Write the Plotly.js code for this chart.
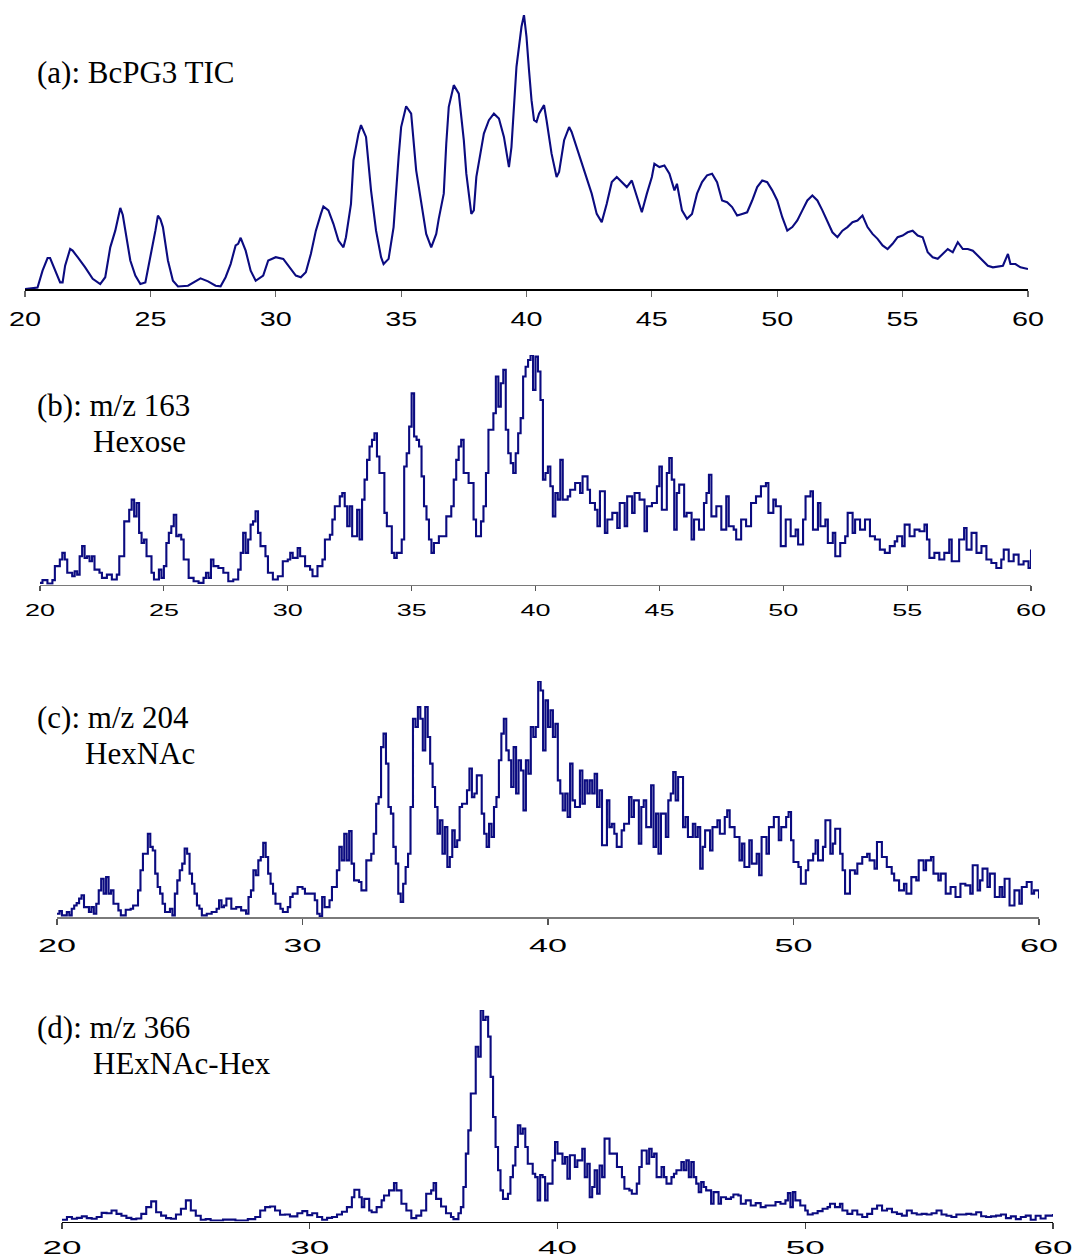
<!DOCTYPE html>
<html>
<head>
<meta charset="utf-8">
<script src="https://cdn.plot.ly/plotly-3.0.1.min.js"></script>
<style>
  html, body { margin: 0; padding: 0; background: #fff; }
  #chart { width: 1075px; height: 1258px; }
</style>
</head>
<body>
<div id="chart"></div>
<script>
// Retention time (min) and relative intensity (% of panel maximum) for each trace.
const ticBcPG3 = [
  [20.0,0],[20.5,0.5],[20.7,6.7],[20.9,11.3],[21.0,11.3],[21.2,6.7],[21.4,2.4],[21.5,2.4],[21.6,8.5],[21.8,14.6],
  [21.9,14.0],[22.1,11.6],[22.4,7.9],[22.7,3.7],[23.0,1.8],[23.2,4.3],[23.4,15.2],[23.6,21.3],[23.8,29.6],[23.9,27.0],
  [24.0,21.3],[24.2,10.4],[24.4,4.9],[24.6,1.8],[24.8,2.4],[25.0,11.6],[25.2,21.3],[25.3,26.8],[25.4,25.5],[25.5,22.6],
  [25.7,10.4],[25.9,3.0],[26.1,0.9],[26.5,1.2],[26.8,2.8],[27.0,3.9],[27.3,2.8],[27.6,1.2],[27.8,1.0],[28.0,4.3],
  [28.2,9.1],[28.4,15.9],[28.5,16.5],[28.6,18.7],[28.8,14.0],[29.0,6.7],[29.2,3.0],[29.5,4.9],[29.7,10.4],[30.0,11.6],
  [30.3,11.0],[30.5,8.5],[30.8,4.9],[31.0,4.3],[31.2,6.1],[31.4,12.8],[31.6,21.3],[31.8,27.4],[31.9,30.1],[32.1,28.7],
  [32.3,23.8],[32.5,17.7],[32.7,15.2],[32.8,18.9],[33.0,31.1],[33.1,47.0],[33.3,56.7],[33.4,59.8],[33.6,55.5],[33.8,36.0],
  [34.0,21.3],[34.2,11.6],[34.3,9.1],[34.5,11.0],[34.7,22.6],[34.9,48.2],[35.0,59.1],[35.2,66.7],[35.4,64.0],[35.6,43.3],
  [35.8,32.3],[36.0,20.1],[36.2,15.2],[36.4,20.1],[36.5,25.6],[36.7,34.8],[36.8,53.0],[36.9,66.5],[37.1,74.4],[37.3,71.3],
  [37.5,54.3],[37.6,42.1],[37.8,27.4],[37.9,28.7],[38.0,40.9],[38.2,51.8],[38.3,56.7],[38.5,61.6],[38.7,64.0],[38.9,62.2],
  [39.1,55.5],[39.3,44.5],[39.4,51.8],[39.6,81.1],[39.8,95.7],[39.9,100],[40.0,92.0],[40.1,79.9],[40.2,68.9],[40.3,61.6],
  [40.4,61.0],[40.5,64.0],[40.7,67.1],[40.8,61.6],[41.0,49.4],[41.2,40.9],[41.3,42.7],[41.5,54.3],[41.7,59.1],[41.8,57.3],
  [42.0,51.8],[42.2,45.7],[42.4,40.9],[42.6,34.8],[42.8,27.4],[43.0,24.4],[43.2,31.1],[43.4,39.0],[43.6,40.9],[43.8,39.0],
  [44.0,37.2],[44.2,39.6],[44.4,33.5],[44.6,28.0],[44.8,34.8],[45.0,40.9],[45.1,45.7],[45.3,44.5],[45.5,45.1],[45.7,42.1],
  [45.9,36.0],[46.0,38.4],[46.2,28.7],[46.4,25.6],[46.6,27.4],[46.8,34.8],[47.0,39.0],[47.2,41.5],[47.4,42.1],[47.6,39.0],
  [47.8,32.3],[48.0,31.7],[48.2,29.9],[48.4,26.8],[48.6,27.4],[48.8,28.0],[49.0,32.3],[49.2,37.2],[49.4,39.6],[49.6,39.0],
  [49.8,36.0],[50.0,32.3],[50.2,26.2],[50.4,21.3],[50.6,22.6],[50.8,25.0],[51.0,28.7],[51.2,32.3],[51.4,34.1],[51.6,32.3],
  [51.8,28.7],[52.0,24.4],[52.2,20.7],[52.4,18.9],[52.6,21.3],[52.8,22.6],[53.0,24.4],[53.2,25.0],[53.4,26.8],[53.6,22.6],
  [53.8,20.1],[54.0,18.3],[54.2,15.9],[54.4,14.6],[54.6,16.5],[54.8,18.9],[55.0,19.5],[55.2,20.7],[55.4,21.3],[55.6,19.5],
  [55.8,18.9],[56.0,13.4],[56.2,11.6],[56.4,11.0],[56.6,12.8],[56.8,14.6],[57.0,13.4],[57.2,17.1],[57.4,14.6],[57.6,14.6],
  [57.8,14.0],[58.0,12.2],[58.2,10.4],[58.4,8.5],[58.6,7.9],[58.8,8.2],[59.0,8.5],[59.2,12.8],[59.3,9.1],[59.5,9.1],
  [59.7,7.9],[60.0,7.3]
];

const eic163 = [
  [20.0,0.7],[20.1,1.9],[20.3,0.4],[20.5,1.9],[20.6,8.0],[20.8,10.9],[20.9,13.8],[21.0,10.9],[21.1,5.1],[21.3,3.6],
  [21.4,5.8],[21.5,4.3],[21.6,12.3],[21.7,16.7],[21.8,11.6],[21.9,12.3],[22.0,10.1],[22.1,12.3],[22.2,6.5],[22.4,5.1],
  [22.5,2.9],[22.7,4.3],[22.9,2.2],[23.1,4.3],[23.2,12.3],[23.4,27.5],[23.5,27.5],[23.6,32.6],[23.7,37.0],[23.8,29.7],
  [23.9,35.5],[24.0,22.5],[24.1,18.1],[24.2,19.6],[24.3,12.3],[24.5,5.1],[24.6,2.2],[24.8,6.5],[24.9,2.9],[25.0,8.0],
  [25.1,18.1],[25.2,22.5],[25.3,25.4],[25.4,30.4],[25.5,21.0],[25.6,21.7],[25.7,19.6],[25.8,10.9],[26.0,2.9],[26.2,1.4],
  [26.4,0.7],[26.6,2.9],[26.7,5.1],[26.8,2.9],[26.9,10.9],[27.0,8.0],[27.2,7.2],[27.4,5.1],[27.6,1.4],[27.8,2.2],
  [28.0,6.5],[28.1,13.8],[28.2,22.5],[28.3,13.8],[28.4,19.6],[28.5,26.1],[28.6,27.5],[28.7,31.9],[28.8,22.5],[28.9,16.7],
  [29.1,12.3],[29.2,5.1],[29.4,2.2],[29.6,3.6],[29.8,10.1],[30.0,10.9],[30.1,13.8],[30.2,11.6],[30.4,15.9],[30.5,12.3],
  [30.7,8.0],[30.9,6.5],[31.0,3.6],[31.2,8.0],[31.4,10.9],[31.5,19.6],[31.7,21.7],[31.8,28.3],[31.9,34.1],[32.1,38.4],
  [32.2,39.9],[32.3,34.1],[32.4,25.4],[32.5,34.1],[32.6,21.0],[32.8,32.6],[32.9,19.6],[33.0,37.0],[33.1,45.7],[33.2,54.3],
  [33.3,60.1],[33.4,63.0],[33.5,65.9],[33.6,55.8],[33.7,48.6],[33.9,31.2],[34.0,25.4],[34.2,13.8],[34.3,11.6],[34.4,13.8],
  [34.6,19.6],[34.7,51.4],[34.8,57.2],[34.9,68.8],[35.0,83.3],[35.1,64.5],[35.2,63.0],[35.3,60.1],[35.4,47.1],[35.5,34.1],
  [35.6,28.3],[35.7,19.6],[35.8,13.8],[35.9,18.1],[36.1,21.0],[36.3,21.0],[36.4,29.7],[36.6,34.1],[36.7,45.7],[36.8,54.3],
  [36.9,60.1],[37.0,63.0],[37.1,48.6],[37.3,44.2],[37.5,28.3],[37.6,21.0],[37.8,27.5],[37.9,34.1],[38.0,48.6],[38.1,67.4],
  [38.3,74.6],[38.4,90.6],[38.5,77.5],[38.6,87.7],[38.7,93.5],[38.8,67.4],[38.9,57.2],[39.0,52.9],[39.1,48.6],[39.2,57.2],
  [39.3,65.9],[39.4,72.5],[39.5,90.6],[39.6,94.9],[39.7,97.8],[39.8,100],[39.9,84.8],[40.0,99.3],[40.1,92.8],[40.2,80.4],
  [40.3,45.7],[40.4,48.6],[40.5,51.4],[40.6,42.8],[40.7,29.7],[40.8,39.9],[40.9,37.0],[41.0,54.3],[41.1,37.0],[41.3,38.4],
  [41.4,41.3],[41.6,44.2],[41.8,39.9],[41.9,47.1],[42.1,41.3],[42.2,35.5],[42.4,32.6],[42.5,25.4],[42.6,40.6],[42.8,22.5],
  [42.9,28.3],[43.1,31.2],[43.3,24.6],[43.4,35.5],[43.6,25.4],[43.7,38.4],[43.9,31.2],[44.0,39.9],[44.2,37.0],[44.4,23.2],
  [44.5,34.1],[44.7,35.5],[44.9,42.8],[45.0,51.4],[45.1,32.6],[45.3,48.6],[45.4,55.1],[45.5,45.7],[45.6,23.9],[45.7,39.9],
  [45.8,43.5],[46.0,29.7],[46.1,31.2],[46.3,19.6],[46.4,28.3],[46.6,23.9],[46.8,35.5],[46.9,39.9],[47.0,47.8],[47.1,29.7],
  [47.3,34.1],[47.5,23.9],[47.7,38.4],[47.8,25.4],[48.0,23.9],[48.1,19.6],[48.3,28.3],[48.5,25.4],[48.7,35.5],[48.9,38.4],
  [49.1,42.8],[49.3,44.2],[49.4,31.2],[49.6,37.0],[49.7,34.1],[49.9,16.7],[50.1,28.3],[50.3,21.0],[50.5,23.9],[50.6,17.4],
  [50.8,28.3],[50.9,38.4],[51.1,40.6],[51.2,23.9],[51.4,35.5],[51.5,25.4],[51.7,28.3],[51.8,18.1],[52.0,22.5],[52.1,12.3],
  [52.3,18.1],[52.5,21.0],[52.6,31.2],[52.8,22.5],[52.9,28.3],[53.1,23.9],[53.3,28.3],[53.5,21.0],[53.7,19.6],[53.9,15.2],
  [54.1,13.8],[54.3,16.7],[54.5,18.8],[54.6,21.0],[54.8,16.7],[54.9,26.1],[55.1,21.0],[55.3,23.9],[55.5,23.2],[55.7,26.1],
  [55.8,19.6],[55.9,11.6],[56.1,13.8],[56.3,10.9],[56.5,13.8],[56.7,19.6],[56.8,10.1],[57.0,10.1],[57.1,19.6],[57.3,24.6],
  [57.4,15.2],[57.6,22.5],[57.8,13.8],[58.0,16.7],[58.2,10.9],[58.4,9.4],[58.6,7.2],[58.8,10.9],[58.9,15.2],[59.1,10.1],
  [59.3,13.0],[59.5,8.7],[59.7,10.1],[59.9,7.2],[60.0,15.2]
];

const eic204 = [
  [20.0,1.4],[20.1,2.5],[20.2,0.7],[20.4,2.1],[20.5,0.7],[20.6,3.5],[20.7,4.9],[20.8,5.9],[20.9,7.8],[21.0,9.2],
  [21.1,4.2],[21.3,2.1],[21.4,4.2],[21.5,1.4],[21.6,5.6],[21.7,11.3],[21.8,16.2],[21.9,9.9],[22.0,16.9],[22.1,9.9],
  [22.2,11.3],[22.3,5.6],[22.5,2.8],[22.6,0.7],[22.8,3.1],[23.0,3.5],[23.1,4.9],[23.3,11.3],[23.4,19.8],[23.5,26.8],
  [23.7,35.3],[23.8,29.7],[23.9,28.2],[24.0,18.4],[24.1,12.7],[24.2,9.9],[24.3,5.6],[24.4,2.1],[24.6,3.5],[24.7,0.7],
  [24.8,9.9],[24.9,15.5],[25.0,19.8],[25.1,22.6],[25.2,29.0],[25.3,26.8],[25.4,18.4],[25.5,14.1],[25.6,9.9],[25.7,4.9],
  [25.8,3.5],[25.9,0.7],[26.1,1.4],[26.3,2.1],[26.5,3.5],[26.6,7.1],[26.7,4.2],[26.8,4.9],[26.9,7.8],[27.1,3.5],
  [27.3,4.2],[27.5,2.8],[27.7,1.4],[27.8,8.5],[27.9,11.3],[28.0,19.8],[28.1,17.7],[28.2,24.0],[28.3,25.4],[28.4,31.4],
  [28.5,25.4],[28.6,18.4],[28.7,14.1],[28.8,9.9],[28.9,5.6],[29.1,3.5],[29.2,2.1],[29.4,4.2],[29.5,8.5],[29.6,9.9],
  [29.8,12.7],[30.0,12.0],[30.1,9.9],[30.3,9.9],[30.5,7.1],[30.6,1.4],[30.7,0.3],[30.8,8.5],[30.9,4.2],[31.1,7.1],
  [31.2,12.7],[31.4,19.8],[31.5,29.7],[31.6,24.0],[31.7,35.3],[31.8,24.0],[31.9,36.4],[32.0,22.6],[32.1,15.5],[32.3,14.8],
  [32.4,11.3],[32.5,11.3],[32.6,24.0],[32.8,26.8],[32.9,35.3],[33.0,48.0],[33.1,50.8],[33.2,72.0],[33.3,77.7],[33.4,65.0],
  [33.5,46.6],[33.6,43.8],[33.7,29.7],[33.8,22.6],[33.9,9.9],[34.0,6.4],[34.1,14.1],[34.2,21.2],[34.3,26.8],[34.4,46.6],
  [34.5,84.0],[34.6,80.5],[34.7,89.0],[34.8,84.0],[34.9,70.6],[35.0,89.0],[35.1,76.3],[35.2,65.0],[35.3,55.1],[35.4,46.6],
  [35.5,35.3],[35.6,41.0],[35.7,26.8],[35.8,38.1],[35.9,21.2],[36.0,25.4],[36.1,36.7],[36.2,29.7],[36.3,32.5],[36.4,46.6],
  [36.5,48.0],[36.7,53.7],[36.8,62.9],[36.9,50.8],[37.0,52.3],[37.1,60.0],[37.3,43.8],[37.4,35.3],[37.5,29.7],[37.6,39.5],
  [37.7,33.9],[37.8,46.6],[37.9,50.8],[38.0,66.4],[38.1,77.7],[38.2,84.0],[38.3,70.6],[38.4,66.4],[38.5,55.1],[38.6,72.0],
  [38.7,52.3],[38.8,66.4],[38.9,62.1],[39.0,45.2],[39.1,66.4],[39.2,60.7],[39.3,80.5],[39.4,76.3],[39.5,80.5],[39.6,100],
  [39.7,96.0],[39.8,70.6],[39.9,91.8],[40.0,80.5],[40.1,87.6],[40.2,76.3],[40.3,81.9],[40.4,57.9],[40.5,52.3],[40.6,45.2],
  [40.7,52.3],[40.8,42.4],[40.9,65.0],[41.0,49.4],[41.1,46.6],[41.3,62.1],[41.4,48.0],[41.5,57.9],[41.6,52.3],[41.7,57.9],
  [41.8,52.3],[41.9,60.7],[42.0,46.6],[42.1,53.7],[42.2,30.4],[42.4,49.4],[42.5,38.1],[42.6,39.5],[42.7,35.3],[42.8,29.7],
  [43.0,36.7],[43.1,39.5],[43.3,50.8],[43.4,42.4],[43.5,49.4],[43.7,31.1],[43.8,46.6],[43.9,49.4],[44.0,38.1],[44.2,55.8],
  [44.3,29.7],[44.4,43.8],[44.5,26.8],[44.6,43.8],[44.8,33.9],[44.9,49.4],[45.0,52.3],[45.1,61.4],[45.2,49.4],[45.3,59.3],
  [45.5,38.1],[45.6,42.4],[45.7,33.9],[45.9,39.5],[46.0,33.9],[46.1,38.1],[46.2,20.5],[46.3,29.7],[46.4,36.7],[46.6,28.2],
  [46.7,38.1],[46.9,41.0],[47.0,35.3],[47.2,42.4],[47.3,45.2],[47.4,38.1],[47.6,33.9],[47.8,24.0],[47.9,31.1],[48.0,21.2],
  [48.2,32.5],[48.3,22.6],[48.5,26.8],[48.6,17.7],[48.7,33.9],[48.9,26.8],[49.0,38.1],[49.2,42.4],[49.4,32.5],[49.5,38.1],
  [49.7,42.4],[49.8,44.5],[49.9,32.5],[50.0,23.3],[50.2,21.2],[50.3,14.1],[50.5,19.8],[50.6,24.0],[50.8,26.8],[50.9,32.5],
  [51.0,24.0],[51.2,29.7],[51.3,41.0],[51.5,26.8],[51.6,31.1],[51.7,37.4],[51.9,26.8],[52.0,19.8],[52.1,9.9],[52.3,19.8],
  [52.5,18.4],[52.6,22.6],[52.8,25.4],[53.0,26.8],[53.1,24.0],[53.3,20.5],[53.4,31.8],[53.6,25.4],[53.8,21.2],[54.0,18.4],
  [54.1,15.5],[54.3,11.3],[54.5,14.1],[54.6,9.9],[54.8,16.9],[55.0,15.5],[55.1,24.0],[55.3,19.8],[55.4,24.0],[55.6,25.4],
  [55.7,18.4],[55.9,15.5],[56.0,18.4],[56.2,9.9],[56.4,12.7],[56.6,8.5],[56.8,14.1],[57.0,13.4],[57.2,9.9],[57.3,21.9],
  [57.5,11.3],[57.6,15.5],[57.7,20.5],[57.9,12.7],[58.0,18.4],[58.2,8.5],[58.4,12.7],[58.5,8.5],[58.6,16.2],[58.8,4.9],
  [59.0,11.3],[59.2,5.6],[59.3,12.7],[59.5,14.8],[59.7,9.9],[59.8,11.3],[60.0,7.8]
];

const eic366 = [
  [20.0,0.8],[20.2,2.1],[20.4,1.3],[20.6,1.7],[20.8,2.4],[21.0,1.6],[21.2,1.3],[21.4,2.1],[21.6,4.1],[21.8,3.9],
  [22.0,5.2],[22.2,3.6],[22.4,2.7],[22.6,1.7],[22.8,1.1],[23.0,1.4],[23.2,3.6],[23.4,6.8],[23.6,9.5],[23.8,4.4],
  [24.0,2.8],[24.2,1.6],[24.4,1.3],[24.6,3.3],[24.8,6.0],[25.0,10.0],[25.2,5.2],[25.4,2.7],[25.6,0.8],[25.8,1.1],
  [26.0,0.5],[26.5,0.9],[27.0,0.5],[27.5,1.1],[27.8,2.1],[28.0,5.2],[28.2,6.8],[28.4,7.1],[28.6,5.2],[28.8,3.2],
  [29.0,3.3],[29.2,2.4],[29.5,3.9],[29.7,4.9],[29.9,3.0],[30.1,3.9],[30.3,2.1],[30.5,0.8],[30.7,1.7],[30.9,2.1],
  [31.1,3.3],[31.3,4.6],[31.5,6.8],[31.7,11.5],[31.8,15.0],[32.0,11.5],[32.1,6.8],[32.2,10.7],[32.4,5.2],[32.5,4.4],
  [32.7,6.8],[32.9,10.0],[33.0,12.3],[33.2,14.7],[33.4,18.2],[33.5,14.7],[33.7,8.4],[33.9,5.2],[34.1,1.6],[34.3,2.8],
  [34.5,5.2],[34.7,13.1],[34.9,14.7],[35.0,18.2],[35.1,10.7],[35.3,7.1],[35.5,3.9],[35.7,2.1],[35.8,1.1],[36.0,3.9],
  [36.1,6.8],[36.2,16.3],[36.3,32.1],[36.4,43.1],[36.5,60.5],[36.7,82.6],[36.8,77.9],[36.9,100],[37.0,95.3],[37.1,96.8],
  [37.2,87.4],[37.3,68.4],[37.4,49.4],[37.5,35.2],[37.6,24.2],[37.7,14.7],[37.8,10.7],[38.0,13.1],[38.1,21.0],[38.2,26.5],
  [38.3,35.2],[38.4,45.5],[38.5,41.5],[38.6,43.9],[38.7,35.2],[38.8,27.3],[38.9,27.3],[39.0,22.6],[39.1,21.0],[39.2,10.0],
  [39.3,22.0],[39.4,21.0],[39.5,10.0],[39.6,17.9],[39.8,28.9],[39.9,37.6],[40.0,32.1],[40.2,27.3],[40.3,30.5],[40.4,20.2],
  [40.5,31.3],[40.7,25.8],[40.8,28.9],[41.0,34.4],[41.1,21.0],[41.2,27.3],[41.3,11.5],[41.4,16.3],[41.5,24.2],[41.6,13.1],
  [41.7,26.5],[41.8,21.0],[41.9,39.2],[42.1,32.1],[42.3,32.1],[42.4,25.8],[42.6,21.0],[42.7,15.5],[42.9,14.7],[43.0,13.1],
  [43.2,17.9],[43.3,25.8],[43.4,33.6],[43.6,27.3],[43.7,34.4],[43.8,30.5],[43.9,32.1],[44.0,21.0],[44.2,25.8],[44.3,21.0],
  [44.4,17.9],[44.6,21.0],[44.7,22.6],[44.8,24.2],[45.0,28.1],[45.1,24.2],[45.2,28.9],[45.3,21.0],[45.4,28.1],[45.5,21.0],
  [45.6,17.9],[45.7,13.9],[45.8,18.6],[45.9,16.3],[46.0,14.7],[46.2,8.4],[46.3,13.9],[46.5,8.4],[46.6,11.5],[46.8,10.7],
  [47.0,11.5],[47.1,12.8],[47.3,12.3],[47.4,8.4],[47.6,10.0],[47.8,7.6],[48.0,8.7],[48.2,6.8],[48.4,7.6],[48.6,7.6],
  [48.8,9.2],[49.0,8.4],[49.2,10.0],[49.3,13.4],[49.4,6.8],[49.5,13.9],[49.6,10.0],[49.8,7.6],[50.0,5.2],[50.1,3.3],
  [50.3,3.9],[50.5,4.9],[50.7,6.0],[50.9,6.8],[51.0,8.4],[51.2,6.8],[51.4,8.4],[51.5,5.2],[51.7,3.6],[51.9,5.2],
  [52.1,3.3],[52.3,2.1],[52.5,3.6],[52.7,6.0],[52.9,7.6],[53.1,5.2],[53.3,6.0],[53.5,4.4],[53.7,3.6],[53.9,2.8],
  [54.1,5.2],[54.3,3.9],[54.5,3.3],[54.7,3.6],[54.9,3.3],[55.1,3.9],[55.3,5.2],[55.5,3.3],[55.7,2.7],[55.9,2.1],
  [56.1,3.3],[56.3,3.3],[56.5,3.6],[56.7,3.3],[56.9,4.4],[57.1,2.5],[57.3,2.1],[57.5,2.4],[57.7,2.8],[57.9,3.3],
  [58.1,1.6],[58.3,2.4],[58.5,1.1],[58.7,2.1],[58.9,2.8],[59.1,0.8],[59.3,2.7],[59.5,1.4],[59.7,2.8],[60.0,3.6]
];

const tickValsA = [20, 25, 30, 35, 40, 45, 50, 55, 60];
const tickValsB = [20, 25, 30, 35, 40, 45, 50, 55, 60];
const tickValsC = [20, 30, 40, 50, 60];
const tickValsD = [20, 30, 40, 50, 60];

const panelLabels = [
  { lines: ['(a): BcPG3 TIC'], indent: [35], top: [72] },
  { lines: ['(b): m/z 163', 'Hexose'], indent: [35, 91], top: [405, 441] },
  { lines: ['(c): m/z 204', 'HexNAc'], indent: [35, 83], top: [717, 753] },
  { lines: ['(d): m/z 366', 'HExNAc-Hex'], indent: [35, 91], top: [1027, 1063] }
];

// Page geometry (pixels) for the four stacked panels; tick labels are drawn
// in a horizontally widened sans face (labelWidth = width of a two-digit label).
// The TIC is drawn as a smooth trace, the extracted-ion traces as stepped scans.
const W = 1075, H = 1258;
const panels = [
  { data: ticBcPG3, ticks: tickValsA, x0: 25, x1: 1028, yAxis: 289, yTop: 15, shape: 'linear',
    axisColor: '#000000', tickColor: '#666666', ticklen: 6, standoff: 4, fontSize: 21, labelWidth: 32 },
  { data: eic163, ticks: tickValsB, x0: 40, x1: 1031, yAxis: 584.5, yTop: 355, shape: 'hv',
    axisColor: '#7a7a7a', tickColor: '#555555', ticklen: 5, standoff: 5, fontSize: 17, labelWidth: 30 },
  { data: eic204, ticks: tickValsC, x0: 57, x1: 1039, yAxis: 917, yTop: 681, shape: 'hv',
    axisColor: '#7a7a7a', tickColor: '#555555', ticklen: 6, standoff: 5, fontSize: 19, labelWidth: 38 },
  { data: eic366, ticks: tickValsD, x0: 62, x1: 1053, yAxis: 1221.5, yTop: 1010, shape: 'hv',
    axisColor: '#000000', tickColor: '#444444', ticklen: 6, standoff: 3, fontSize: 18.5, labelWidth: 39 }
];

const traces = [];
const layout = {
  width: W, height: H,
  margin: { l: 0, r: 0, t: 0, b: 0 },
  paper_bgcolor: '#ffffff', plot_bgcolor: 'rgba(0,0,0,0)',
  showlegend: false,
  annotations: []
};

panels.forEach((p, i) => {
  const n = i + 1;
  const sfx = n === 1 ? '' : String(n);
  traces.push({
    type: 'scatter', mode: 'lines',
    x: p.data.map(d => d[0]),
    y: p.data.map(d => d[1]),
    xaxis: 'x' + sfx, yaxis: 'y' + sfx,
    line: { color: '#0b0b80', width: 2.1, shape: p.shape },
    hoverinfo: 'skip'
  });
  layout['xaxis' + sfx] = {
    domain: [p.x0 / W, p.x1 / W],
    anchor: 'y' + sfx,
    range: [20, 60],
    tickvals: p.ticks,
    ticktext: p.ticks.map(String),
    ticks: 'outside', ticklen: p.ticklen, tickwidth: 1.2, tickcolor: p.tickColor,
    ticklabelstandoff: p.standoff,
    showline: true, linecolor: p.axisColor, linewidth: 1.5,
    showgrid: false, zeroline: false,
    tickfont: { family: 'Liberation Sans, Arial, sans-serif', size: p.fontSize, color: '#000000' },
    fixedrange: true
  };
  layout['yaxis' + sfx] = {
    domain: [1 - p.yAxis / H, 1 - p.yTop / H],
    anchor: 'x' + sfx,
    range: [0, 100],
    visible: false,
    fixedrange: true
  };
});

panelLabels.forEach(lbl => {
  lbl.lines.forEach((txt, k) => {
    layout.annotations.push({
      text: txt,
      xref: 'paper', yref: 'paper',
      x: lbl.indent[k] / W, y: 1 - lbl.top[k] / H,
      xanchor: 'left', yanchor: 'middle',
      showarrow: false,
      font: { family: 'Liberation Serif, Times New Roman, serif', size: 31, color: '#000000' }
    });
  });
});

Plotly.newPlot('chart', traces, layout, { staticPlot: true, displayModeBar: false }).then(gd => {
  // Widen the tick-label glyphs of each axis to the face's expanded proportions.
  panels.forEach((p, i) => {
    const id = i === 0 ? 'x' : 'x' + (i + 1);
    gd.querySelectorAll('g.' + id + 'tick text').forEach(t => {
      t.setAttribute('textLength', p.labelWidth);
      t.setAttribute('lengthAdjust', 'spacingAndGlyphs');
    });
  });
});
</script>
</body>
</html>
